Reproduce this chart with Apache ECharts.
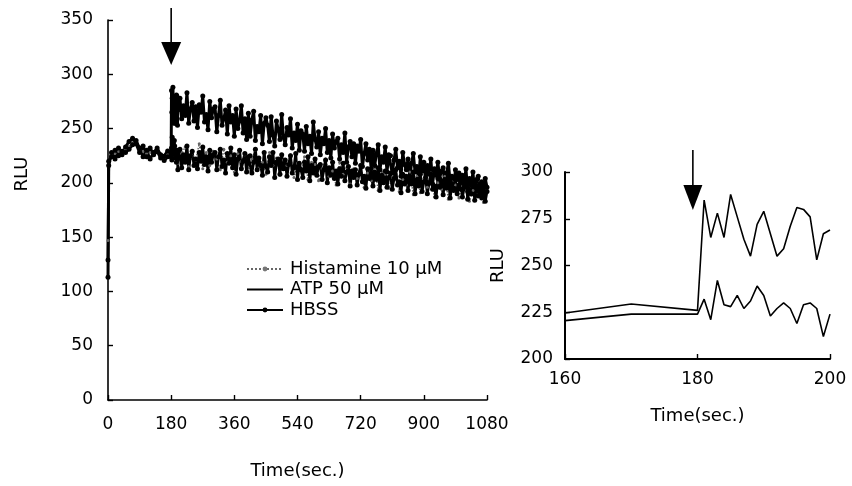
<!DOCTYPE html>
<html>
<head>
<meta charset="utf-8">
<script src="https://cdn.jsdelivr.net/npm/echarts@6/dist/echarts.min.js"></script>
<style>
html,body{margin:0;padding:0;background:#fff;}
#chart{width:852px;height:486px;}
</style>
</head>
<body>
<div id="chart"></div>
<script>
// ---------------- data ----------------
const xTicks = [0, 180, 360, 540, 720, 900, 1080];
const insetXTicks = [160, 180, 200];

// pre-stimulus samples (sec)
const preTimes = [0, 2, 10, 20, 30, 40, 50, 60, 70, 80, 90, 100, 110, 120, 130, 140, 150, 160, 170, 180];
const atpPre   = [113, 216, 228, 222, 232, 226, 233, 238, 241, 236, 228, 234, 224, 232, 226, 229, 223, 224.6, 229.4, 226];
const hbssPre  = [129, 220, 224, 230, 225, 229, 228, 231, 235, 239, 232, 224, 230, 222, 228, 232, 226, 220.5, 224, 224];
const histPre  = [147, 219, 226, 227, 229, 230, 231, 234, 237, 236, 231, 229, 227, 228, 227, 230, 225, 223, 226, 225];

// 1-second samples right after the stimulus (seen in the inset)
const insetTimes = [181, 182, 183, 184, 185, 186, 187, 188, 189, 190, 191, 192, 193, 194, 195, 196, 197, 198, 199, 200];
const atpInset  = [285, 265, 278, 265, 288, 276, 264, 255, 272, 279, 267, 255, 259, 271, 281, 280, 276, 253, 267, 269];
const hbssInset = [232, 221, 242, 229, 228, 234, 227, 231, 239, 234, 223, 227, 230, 227, 219, 229, 230, 227, 212, 224];

// later samples, every 5 s from 205 s to 1080 s
const postStart = 205, postStep = 5;
const atpPost = [
  278, 259, 271, 262, 283, 255, 268, 274, 257, 270,
  251, 272, 265, 280, 256, 263, 249, 275, 260, 268,
  270, 247, 262, 276, 253, 259, 267, 245, 271, 256,
  262, 243, 268, 250, 257, 271, 246, 259, 240, 264,
  243, 258, 266, 239, 252, 247, 262, 236, 255, 260,
  253, 238, 261, 244, 234, 257, 249, 240, 263, 242,
  235, 251, 244, 259, 232, 246, 239, 254, 230, 248,
  245, 229, 252, 236, 243, 227, 256, 240, 233, 247,
  226, 241, 236, 250, 228, 239, 223, 245, 232, 238,
  241, 222, 235, 228, 246, 219, 233, 238, 224, 236,
  218, 234, 229, 240, 215, 227, 236, 221, 231, 213,
  230, 216, 227, 235, 212, 224, 219, 233, 210, 226,
  225, 209, 221, 231, 214, 220, 206, 228, 217, 212,
  222, 205, 218, 227, 210, 215, 203, 224, 211, 219,
  202, 216, 208, 222, 199, 213, 207, 219, 204, 211,
  214, 198, 209, 218, 201, 206, 195, 212, 203, 209,
  194, 207, 199, 213, 192, 204, 198, 210, 189, 203,
  206, 193, 201, 188, 204, 196
];
const hbssPost = [
  231, 214, 226, 219, 234, 212, 225, 229, 216, 222,
  213, 228, 220, 233, 217, 224, 211, 230, 219, 226,
  228, 212, 224, 231, 215, 221, 209, 227, 218, 232,
  214, 226, 208, 222, 230, 213, 220, 227, 210, 224,
  225, 209, 219, 231, 212, 223, 216, 207, 228, 215,
  210, 224, 216, 228, 205, 219, 222, 208, 226, 213,
  221, 206, 217, 225, 209, 214, 227, 203, 218, 212,
  205, 219, 211, 224, 202, 216, 209, 222, 207, 215,
  217, 203, 212, 221, 200, 214, 207, 219, 204, 211,
  199, 213, 206, 218, 202, 210, 215, 197, 211, 205,
  212, 198, 208, 216, 201, 206, 195, 213, 204, 209,
  197, 210, 203, 214, 193, 207, 200, 211, 196, 205,
  209, 194, 204, 212, 198, 201, 191, 208, 199, 206,
  193, 206, 199, 210, 190, 203, 197, 208, 192, 201,
  205, 190, 200, 208, 194, 197, 187, 204, 196, 202,
  189, 203, 195, 206, 186, 199, 193, 204, 190, 198,
  201, 187, 196, 204, 185, 194, 190, 202, 184, 197,
  188, 199, 186, 195, 183, 192
];
// histamine, every 10 s from 190 s to 1080 s
const histPostStart = 190, histPostStep = 10;
const histPost = [
  230, 218, 227, 233, 215, 225, 221, 236, 213, 228,
  216, 229, 222, 212, 231, 219, 225, 210, 227, 220,
  226, 211, 222, 230, 214, 219, 208, 228, 216, 223,
  207, 221, 216, 226, 205, 218, 212, 224, 203, 219,
  217, 202, 213, 222, 206, 211, 198, 219, 208, 214,
  199, 213, 204, 217, 196, 209, 202, 214, 193, 210,
  208, 195, 205, 213, 192, 203, 198, 210, 189, 206,
  191, 204, 196, 209, 187, 200, 194, 206, 185, 201,
  198, 186, 197, 204, 183, 193, 189, 201, 182, 195
];

const stimulusTime = 180;
const insetArrowTime = 179.3;

// ---------------- build ----------------
function pairs(times, vals) { return times.map((t, i) => [t, vals[i]]); }
const postTimes = atpPost.map((_, i) => postStart + i * postStep);
const histTimes = histPost.map((_, i) => histPostStart + i * histPostStep);

const atpData  = pairs(preTimes, atpPre).concat(pairs(insetTimes, atpInset), pairs(postTimes, atpPost));
const hbssData = pairs(preTimes, hbssPre).concat(pairs(insetTimes, hbssInset), pairs(postTimes, hbssPost));
const histData = pairs(preTimes, histPre).concat(pairs(histTimes, histPost));
const atpInsetData  = pairs(preTimes, atpPre).concat(pairs(insetTimes, atpInset));
const hbssInsetData = pairs(preTimes, hbssPre).concat(pairs(insetTimes, hbssInset));

const FONT = 'DejaVu Sans';
const plain = v => String(v);
const axisCommon = {
  axisLine: { show: true, lineStyle: { color: '#000', width: 1.6 } },
  axisTick: { show: true, inside: true, length: 5, lineStyle: { color: '#000', width: 1.4 } },
  splitLine: { show: false },
  axisLabel: { color: '#000', fontFamily: FONT, fontSize: 17, formatter: plain },
  nameTextStyle: { color: '#000', fontFamily: FONT, fontSize: 18 }
};

const chart = echarts.init(document.getElementById('chart'), null, { renderer: 'canvas' });
chart.setOption({
  animation: false,
  backgroundColor: '#fff',
  grid: [
    { left: 108, top: 20, width: 379, height: 380 },
    { left: 565, top: 172, width: 265, height: 187 }
  ],
  xAxis: [
    Object.assign({}, axisCommon, {
      gridIndex: 0, type: 'value', min: xTicks[0], max: xTicks[xTicks.length - 1], interval: xTicks[1] - xTicks[0],
      name: 'Time(sec.)', nameLocation: 'middle', nameGap: 62,
      axisLabel: Object.assign({}, axisCommon.axisLabel, { margin: 16 })
    }),
    Object.assign({}, axisCommon, {
      gridIndex: 1, type: 'value', min: insetXTicks[0], max: insetXTicks[insetXTicks.length - 1], interval: insetXTicks[1] - insetXTicks[0],
      name: 'Time(sec.)', nameLocation: 'middle', nameGap: 48,
      axisLine: { show: true, lineStyle: { color: '#000', width: 2 } },
      axisLabel: Object.assign({}, axisCommon.axisLabel, { margin: 12 })
    })
  ],
  yAxis: [
    Object.assign({}, axisCommon, {
      gridIndex: 0, type: 'value', min: 0, max: 350, interval: 50,
      name: 'RLU', nameLocation: 'middle', nameGap: 77, nameRotate: 90,
      nameTextStyle: Object.assign({}, axisCommon.nameTextStyle, { padding: [0, 0, 0, 72] }),
      axisLabel: Object.assign({}, axisCommon.axisLabel, { margin: 15 })
    }),
    Object.assign({}, axisCommon, {
      gridIndex: 1, type: 'value', min: 200, max: 300, interval: 25,
      name: 'RLU', nameLocation: 'middle', nameGap: 58, nameRotate: 90,
      axisLine: { show: true, lineStyle: { color: '#000', width: 2 } },
      axisLabel: Object.assign({}, axisCommon.axisLabel, { margin: 12 })
    })
  ],
  legend: {
    data: [
      { name: 'Histamine 10 \u00b5M', itemStyle: { color: '#777' } },
      { name: 'ATP 50 \u00b5M', itemStyle: { opacity: 0 } },
      { name: 'HBSS' }
    ],
    orient: 'vertical', left: 246, top: 260, padding: 0,
    itemWidth: 36, itemHeight: 6, itemGap: 2.5,
    textStyle: { color: '#000', fontFamily: FONT, fontSize: 18, lineHeight: 18, padding: [0, 0, 0, 2] }
  },
  series: [
    {
      name: 'Histamine 10 \u00b5M', type: 'line', xAxisIndex: 0, yAxisIndex: 0,
      data: histData, symbol: 'circle', symbolSize: 3, showSymbol: true,
      lineStyle: { color: '#666', width: 1.5, type: 'dotted' }, itemStyle: { color: '#666' }
    },
    {
      name: 'ATP 50 \u00b5M', type: 'line', xAxisIndex: 0, yAxisIndex: 0,
      data: atpData, symbol: 'circle', symbolSize: 5, showSymbol: true,
      lineStyle: { color: '#000', width: 3 }, itemStyle: { color: '#000' }
    },
    {
      name: 'HBSS', type: 'line', xAxisIndex: 0, yAxisIndex: 0,
      data: hbssData, symbol: 'circle', symbolSize: 5, showSymbol: true,
      lineStyle: { color: '#000', width: 2.8 }, itemStyle: { color: '#000' }
    },
    {
      name: 'ATP inset', type: 'line', xAxisIndex: 1, yAxisIndex: 1,
      data: atpInsetData, symbol: 'none', clip: true,
      lineStyle: { color: '#000', width: 1.6 }
    },
    {
      name: 'HBSS inset', type: 'line', xAxisIndex: 1, yAxisIndex: 1,
      data: hbssInsetData, symbol: 'none', clip: true,
      lineStyle: { color: '#000', width: 1.6 }
    }
  ]
});

// arrows marking the stimulus
const ax0 = chart.convertToPixel({ gridIndex: 0 }, [stimulusTime, 0])[0];
const ax1 = chart.convertToPixel({ gridIndex: 1 }, [insetArrowTime, 200])[0];
function arrow(x, y0, y1, y2, hw) {
  return [
    { type: 'line', shape: { x1: x, y1: y0, x2: x, y2: y1 + 1 }, style: { stroke: '#000', lineWidth: 1.6 } },
    { type: 'polygon', shape: { points: [[x - hw, y1], [x + hw, y1], [x, y2]] }, style: { fill: '#000' } }
  ];
}
chart.setOption({ graphic: arrow(ax0, 8, 42, 65, 10).concat(arrow(ax1, 150, 185, 210, 9.5)) });
</script>
</body>
</html>
